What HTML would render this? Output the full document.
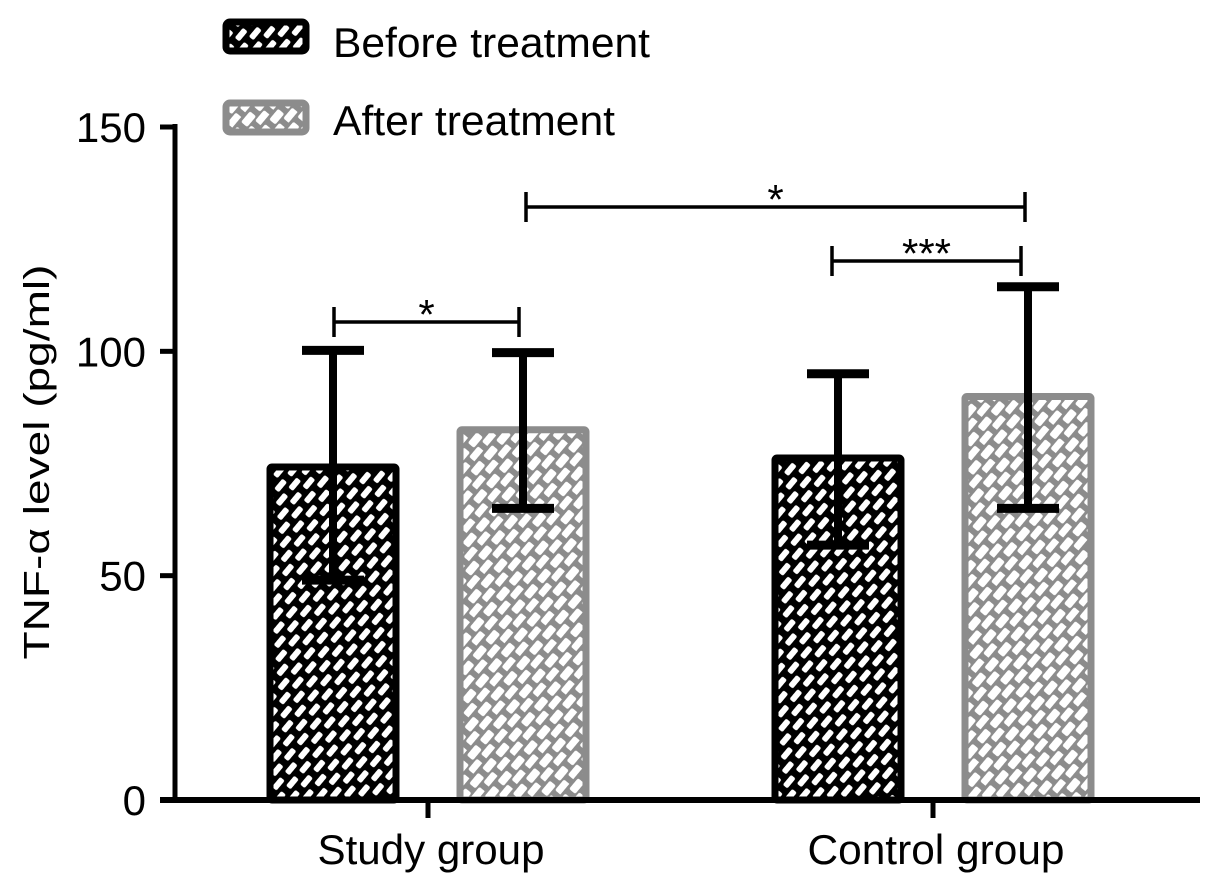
<!DOCTYPE html>
<html><head><meta charset="utf-8"><style>
html,body{margin:0;padding:0;background:#fff;}
svg{display:block;font-family:"Liberation Sans",Arial,sans-serif;}
</style></head><body>
<svg id="chart" width="1205" height="888" viewBox="0 0 1205 888" xmlns="http://www.w3.org/2000/svg">
<defs>
<pattern id="hatchDark" patternUnits="userSpaceOnUse" width="20" height="20" patternTransform="rotate(-50)">
<rect width="20" height="20" fill="#000"/>
<rect x="2" y="4" width="13" height="6" rx="2" fill="#fff"/>
<rect x="12" y="14" width="13" height="6" rx="2" fill="#fff"/>
<rect x="-8" y="14" width="13" height="6" rx="2" fill="#fff"/>
</pattern>
<pattern id="hatchLight" patternUnits="userSpaceOnUse" width="20" height="20" patternTransform="rotate(-50)">
<rect width="20" height="20" fill="#8c8c8c"/>
<rect x="1.5" y="3" width="14" height="8" rx="2" fill="#fff"/>
<rect x="11.5" y="13" width="14" height="8" rx="2" fill="#fff"/>
<rect x="-8.5" y="13" width="14" height="8" rx="2" fill="#fff"/>
</pattern>
</defs>
<g id="bars"></g>
<g id="axes"></g>
<g id="sig"></g>
<g id="legend">
<rect x="226" y="22" width="80" height="29" rx="4" fill="url(#hatchDark)" stroke="#000" stroke-width="7"/>
<text x="333" y="57" font-size="42" textLength="317" lengthAdjust="spacingAndGlyphs">Before treatment</text>
<rect x="226" y="103" width="80" height="29" rx="4" fill="url(#hatchLight)" stroke="#8c8c8c" stroke-width="7"/>
<text x="333" y="135" font-size="42" textLength="282" lengthAdjust="spacingAndGlyphs">After treatment</text>
</g>
<text transform="translate(49,462) rotate(-90)" text-anchor="middle" font-size="36" textLength="395" lengthAdjust="spacingAndGlyphs">TNF-α level (pg/ml)</text>
</svg>
<script>
const categories = ["Study group", "Control group"];
const beforeMeans = [75.0, 77.0];
const beforeErrUp = [25.2, 18.0];
const beforeErrDown = [26.0, 20.2];
const afterMeans = [83.3, 90.7];
const afterErrUp = [16.4, 23.7];
const afterErrDown = [18.3, 25.7];
const yTicks = [0, 50, 100, 150];
const sigLabels = ["*", "***", "*"];

const NS = "http://www.w3.org/2000/svg";
const y0 = 800, y150 = 127, xAxisL = 160, xAxisR = 1200, yAxisX = 175;
function yScale(v){ return y0 - (v/150)*(y0 - y150); }
const groupCenters = [428, 933];
const barW = 133, barGap = 57;
function barX(g, s){ return groupCenters[g] + (s===0 ? -barGap/2 - barW : barGap/2) ; }
function mk(tag, attrs, parent){ const e=document.createElementNS(NS,tag); for(const k in attrs) e.setAttribute(k, attrs[k]); parent.appendChild(e); return e; }

const barsG = document.getElementById('bars');
const series = [{m:beforeMeans, up:beforeErrUp, dn:beforeErrDown, fill:'url(#hatchDark)', stroke:'#000', name:'before'},
                {m:afterMeans, up:afterErrUp, dn:afterErrDown, fill:'url(#hatchLight)', stroke:'#8c8c8c', name:'after'}];
categories.forEach((c,g)=>{
  series.forEach((s,si)=>{
    const x = barX(g, si) + 3.5, w = barW - 7;
    const yt = yScale(s.m[g]);
    const r = mk('rect',{x:x, y:yt+3.5, width:w, height:y0-yt-3.5, fill:s.fill, stroke:s.stroke, 'stroke-width':7, rx:2}, barsG);
    
    
    const cx = barX(g, si) + barW/2;
    const eHi = yScale(s.m[g] + s.up[g]), eLo = yScale(s.m[g] - s.dn[g]);
    const eg = mk('g',{}, barsG);
    
    
    mk('line',{x1:cx, x2:cx, y1:eHi, y2:eLo, stroke:'#000', 'stroke-width':8}, eg);
    mk('line',{x1:cx-31, x2:cx+31, y1:eHi, y2:eHi, stroke:'#000', 'stroke-width':9}, eg);
    mk('line',{x1:cx-31, x2:cx+31, y1:eLo, y2:eLo, stroke:'#000', 'stroke-width':9}, eg);
  });
});

const ax = document.getElementById('axes');
const yAx = mk('line',{x1:yAxisX, x2:yAxisX, y1:y150-3, y2:y0+3, stroke:'#000', 'stroke-width':5}, ax);
 
const xAx = mk('line',{x1:xAxisL, x2:xAxisR, y1:y0, y2:y0, stroke:'#000', 'stroke-width':6}, ax);
 
yTicks.forEach(t=>{
  const y = yScale(t);
  const tk = mk('line',{x1:xAxisL, x2:yAxisX, y1:y, y2:y, stroke:'#000', 'stroke-width':5}, ax);
   
  const tl = mk('text',{x:146, y:y+15, 'text-anchor':'end', 'font-size':42}, ax);
  tl.textContent = t;
   
});
const xLabelW = [227, 257];
categories.forEach((c,g)=>{
  const tk = mk('line',{x1:groupCenters[g], x2:groupCenters[g], y1:y0, y2:818, stroke:'#000', 'stroke-width':5}, ax);
   
  const tl = mk('text',{x:groupCenters[g]+3, y:864, 'text-anchor':'middle', 'font-size':42, textLength:xLabelW[g], lengthAdjust:'spacingAndGlyphs'}, ax);
  tl.textContent = c;
   
});

const sg = document.getElementById('sig');
function bracket(x1, x2, y, label, name){
  const g = mk('g',{}, sg);
  
  
  mk('line',{x1:x1, x2:x2, y1:y, y2:y, stroke:'#000', 'stroke-width':3.5}, g);
  mk('line',{x1:x1, x2:x1, y1:y-15, y2:y+15, stroke:'#000', 'stroke-width':3.5}, g);
  mk('line',{x1:x2, x2:x2, y1:y-15, y2:y+15, stroke:'#000', 'stroke-width':3.5}, g);
  const t = mk('text',{x:(x1+x2)/2, y:y+7, 'text-anchor':'middle', 'font-size':42}, g);
  t.textContent = label;
}
bracket(334, 519, 322, sigLabels[0], 'significance-study');
bracket(832, 1021, 261, sigLabels[1], 'significance-control');
bracket(526, 1025, 207, sigLabels[2], 'significance-after-between-groups');
</script>
</body></html>
